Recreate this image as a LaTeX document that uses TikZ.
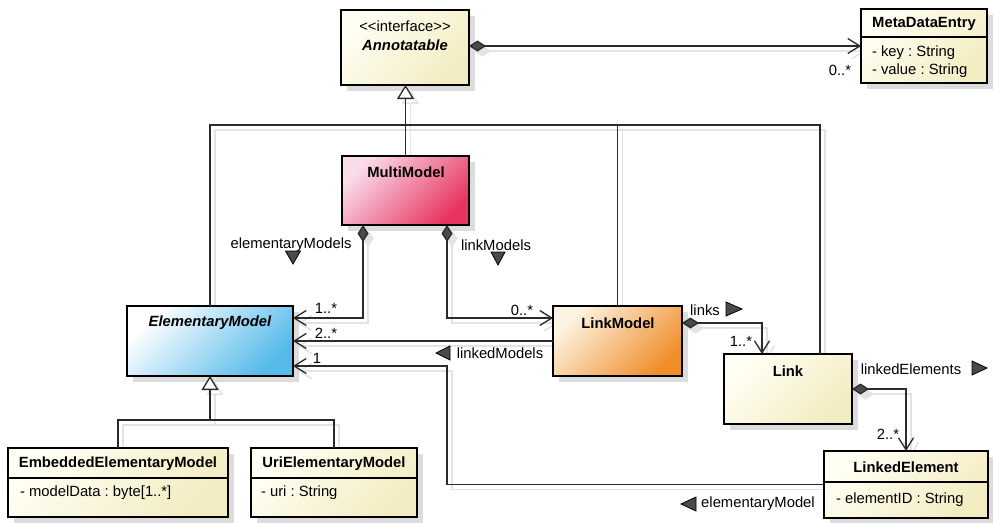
\documentclass[tikz,border=0pt]{standalone}
\usepackage{fontspec}
\newfontfamily\umlfont{Liberation Sans}
\usetikzlibrary{arrows.meta,shadows}
\pgfdeclarelayer{bg}
\pgfsetlayers{bg,main}
\frenchspacing

\definecolor{ink}{HTML}{2B2B2B}
\definecolor{boxshade}{HTML}{DCDCDC}
\definecolor{wireshade}{HTML}{E3E3E3}
\definecolor{tipgrey}{HTML}{4A4A4A}
\definecolor{creamA}{HTML}{FFFFF4}
\definecolor{creamB}{HTML}{F3ECC2}
\definecolor{pinkA}{HTML}{F9DCEA}
\definecolor{pinkB}{HTML}{E8345F}
\definecolor{blueA}{HTML}{FFFFFF}
\definecolor{blueB}{HTML}{55BAEA}
\definecolor{orangeA}{HTML}{FDF3E2}
\definecolor{orangeB}{HTML}{EF8E2B}

\newcommand\umlsize{\umlfont\fontsize{14.8}{17}\selectfont}

\tikzset{
  every node/.style={inner sep=0pt, outer sep=0pt, font=\umlsize},
  lbl/.style={font=\umlsize},
  ttl/.style={font=\umlsize\bfseries},
  ttli/.style={font=\umlsize\bfseries\itshape},
  attr/.style={font=\umlsize, anchor=west},
  classbox/.style={draw=black, line width=2pt, shading=axis,
    top color=#1A, bottom color=#1B, shading angle=45,
    general shadow={fill=boxshade, shadow xshift=6pt, shadow yshift=-6pt},
    anchor=north west},
  divider/.style={draw=black, line width=1.2pt},
  wire/.style={draw=ink, line width=1.3pt},
  wireshadow/.style={draw=wireshade, line width=1.6pt,
    transform canvas={xshift=5pt, yshift=-5pt}},
  comp/.style={arrows={{Diamond[length=17pt,width=11pt,fill=tipgrey]}-{Straight Barb[length=12pt,width=15pt]}}},
  comp shadow/.style={arrows={{Diamond[length=17pt,width=11pt,fill=wireshade]}-{Straight Barb[length=12pt,width=15pt]}}},
  nav/.style={arrows={-{Straight Barb[length=12pt,width=15pt]}}},
  nav shadow/.style={nav},
  gen/.style={arrows={-{Triangle[length=14pt,width=17pt,fill=white]}}},
  gen shadow/.style={gen},
  plain/.style={},
  plain shadow/.style={},
  navmark/.style={fill=tipgrey, draw=black, line width=0.8pt, line join=miter},
}

% connector with its soft offset shadow underneath
\newcommand\umlwire[2]{%
  \begin{pgfonlayer}{bg}\draw[wireshadow,#1 shadow] #2;\end{pgfonlayer}%
  \draw[wire,#1] #2;}

\begin{document}
\begin{tikzpicture}[x=1pt,y=-1pt]
\useasboundingbox (0,0) rectangle (993,522);
\begin{pgfonlayer}{bg}
  \fill[white] (0,0) rectangle (993,522);
\end{pgfonlayer}

% ---------- classes ----------
\node[classbox=cream, minimum width=128pt, minimum height=75pt] (ann) at (341,10) {};
\node[lbl] (annS) at (405,26) {<<interface>>};
\node[ttli] (annN) at (405,45) {Annotatable};

\node[classbox=cream, minimum width=126pt, minimum height=74pt] (meta) at (861,9) {};
\draw[divider] (meta.west |- 0,37) -- (meta.east |- 0,37);
\node[ttl] (metaN) at (924,24) {MetaDataEntry};
\node[attr] (metaA) at (872,53) {- key : String};
\node[attr] (metaB) at (872,71) {- value : String};

\node[classbox=pink, minimum width=127pt, minimum height=69pt] (mm) at (342,156) {};
\node[ttl] (mmN) at (406,172) {MultiModel};

\node[classbox=blue, minimum width=166pt, minimum height=70pt] (em) at (127,306) {};
\node[ttli] (emN) at (210,323) {ElementaryModel};

\node[classbox=orange, minimum width=129pt, minimum height=70pt] (lm) at (553,306) {};
\node[ttl] (lmN) at (618,323) {LinkModel};

\node[classbox=cream, minimum width=128pt, minimum height=70pt] (link) at (724,354) {};
\node[ttl] (linkN) at (788,371) {Link};

\node[classbox=cream, minimum width=164pt, minimum height=67pt] (le) at (824,451) {};
\draw[divider] (le.west |- 0,482) -- (le.east |- 0,482);
\node[ttl] (leN) at (906,467) {LinkedElement};
\node[attr] (leA) at (836,500) {- elementID : String};

\node[classbox=cream, minimum width=220pt, minimum height=69pt] (eem) at (8,448) {};
\draw[divider] (eem.west |- 0,478) -- (eem.east |- 0,478);
\node[ttl] (eemN) at (118,464) {EmbeddedElementaryModel};
\node[attr] (eemA) at (20,493) {- modelData : byte[1..*]};

\node[classbox=cream, minimum width=166pt, minimum height=69pt] (uem) at (251,448) {};
\draw[divider] (uem.west |- 0,478) -- (uem.east |- 0,478);
\node[ttl] (uemN) at (334,464) {UriElementaryModel};
\node[attr] (uemA) at (261,493) {- uri : String};

% ---------- helper points ----------
\coordinate (hub) at (405,125);
\coordinate (linktop) at ([xshift=32pt]link.north);
\coordinate (subhub) at (210,420);
\coordinate (elbow) at (447,366);

% ---------- generalisations ----------
\umlwire{gen}{(mm.north) -- (mm.north |- ann.south)}
\umlwire{plain}{(em.north) |- (hub) -| (linktop)}
\umlwire{plain}{(lm.north) -- (lm.north |- hub)}
\umlwire{gen}{(subhub) -- (em.south)}
\umlwire{plain}{(eem.north) |- (subhub) -| (uem.north)}

% ---------- associations ----------
\umlwire{comp}{(ann.east |- 0,46) -- (meta.west |- 0,46)}
\umlwire{comp}{([xshift=21pt]mm.south west) |- ([yshift=23pt]em.east)}
\umlwire{comp}{([xshift=105pt]mm.south west) |- ([yshift=23pt]lm.west)}
\umlwire{nav}{(lm.west) -- (em.east)}
\umlwire{nav}{(le.west) -| (elbow) -- ([yshift=-25pt]em.east)}
\umlwire{comp}{([yshift=18pt]lm.east) -| ([xshift=-26pt]link.north)}
\umlwire{comp}{(link.east) -| (le.north)}

% ---------- role names and multiplicities ----------
\node[lbl] (mult1) at (840,70) {0..*};
\node[lbl] (roleEM) at (291,245) {elementaryModels};
\node[lbl] (roleLM) at (496,245) {linkModels};
\node[lbl] (mult2) at (326,308) {1..*};
\node[lbl] (mult3) at (326,333) {2..*};
\node[lbl] (mult4) at (317,358) {1};
\node[lbl] (mult5) at (522,310) {0..*};
\node[lbl] (roleLD) at (500,353) {linkedModels};
\node[lbl] (roleLK) at (705,310) {links};
\node[lbl] (mult6) at (741,341) {1..*};
\node[lbl] (roleLE) at (911,369) {linkedElements};
\node[lbl] (mult7) at (888,434) {2..*};
\node[lbl] (roleEL) at (758,504) {elementaryModel};

% reading-direction markers
\filldraw[navmark] (293,264) -- ++(-7.5,-13) -- ++(15,0) -- cycle;
\filldraw[navmark] (498,265) -- ++(-7,-13) -- ++(14,0) -- cycle;
\filldraw[navmark] (436,353) -- ++(14,-7) -- ++(0,14) -- cycle;
\filldraw[navmark] (742,309) -- ++(-16,-7) -- ++(0,14) -- cycle;
\filldraw[navmark] (987,368) -- ++(-15,-7) -- ++(0,14) -- cycle;
\filldraw[navmark] (681,504) -- ++(15,-7) -- ++(0,14) -- cycle;
\end{tikzpicture}
\end{document}
